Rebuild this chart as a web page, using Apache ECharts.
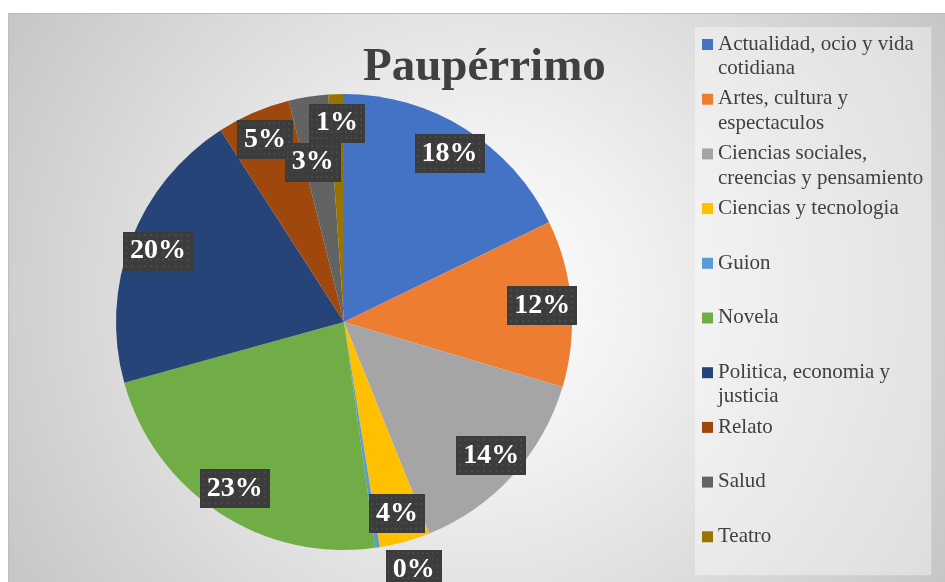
<!DOCTYPE html>
<html>
<head>
<meta charset="utf-8">
<script src="https://cdn.jsdelivr.net/npm/echarts@6/dist/echarts.min.js"></script>
<style>
  body { margin: 0; background: #fff; }
  #bg {
    position: absolute; left: 8px; top: 13px; width: 937px; height: 569px;
    border-left: 1px solid #bdbdbd; border-top: 1px solid #bdbdbd;
    background: radial-gradient(circle at 50% 50%, #ffffff 0%, #f1f1f1 30%, #c6c6c6 100%);
  }
  #chart { position: absolute; left: 0; top: 0; width: 945px; height: 582px; }
</style>
</head>
<body>
<div id="bg"></div>
<div id="chart"></div>
<script>
const categories = ['Actualidad, ocio y vida cotidiana', 'Artes, cultura y espectaculos',
  'Ciencias sociales, creencias y pensamiento', 'Ciencias y tecnologia', 'Guion', 'Novela',
  'Politica, economia y justicia', 'Relato', 'Salud', 'Teatro']
const legendLines = ['Actualidad, ocio y vida\ncotidiana', 'Artes, cultura y\nespectaculos',
  'Ciencias sociales,\ncreencias y pensamiento', 'Ciencias y tecnologia', 'Guion', 'Novela',
  'Politica, economia y\njusticia', 'Relato', 'Salud', 'Teatro']
const shares = [17.8, 11.8, 14.3, 3.6, 0.3, 22.9, 20.2, 5.2, 2.8, 1.1]
const colors = ['#4472C4', '#ED7D31', '#A5A5A5', '#FFC000', '#5B9BD5', '#70AD47',
  '#264478', '#9E480E', '#636363', '#997300']

// dotted dark background for the data labels
const pat = document.createElement('canvas')
pat.width = 80; pat.height = 44
const g = pat.getContext('2d')
g.fillStyle = '#3c3c3c'
g.fillRect(0, 0, 80, 44)
g.fillStyle = '#4f4f4f'
for (let x = 3; x < 80; x += 7) {
  for (let y = 3; y < 44; y += 7) {
    g.fillRect(x, y, 2, 2)
  }
}

const labelBox = {
  color: '#fff',
  fontFamily: 'Liberation Serif',
  fontWeight: 'bold',
  fontSize: 28,
  lineHeight: 32,
  padding: [4, 7, 3, 7],
  backgroundColor: {image: pat},
  shadowColor: 'rgba(0,0,0,0.45)',
  shadowBlur: 5,
  shadowOffsetX: 3,
  shadowOffsetY: 3,
  formatter: p => Math.round(p.value) + '%'
}

const guion = categories.indexOf('Guion')
const pieData = categories.map((name, i) => ({
  name: name,
  value: shares[i],
  itemStyle: {color: colors[i]},
  label: {show: i === guion}
}))
const labelData = categories.map((name, i) => ({
  name: name,
  value: shares[i],
  label: {show: i !== guion}
}))

const chart = echarts.init(document.getElementById('chart'))
chart.setOption({
  animation: false,
  title: {
    text: 'Paupérrimo',
    left: 358,
    top: 39,
    textStyle: {fontFamily: 'Liberation Serif', fontWeight: 'bold', fontSize: 47, color: '#404040'}
  },
  legend: {
    orient: 'vertical',
    left: 695,
    top: 27,
    padding: [5, 8, 2, 7],
    backgroundColor: 'rgba(255,255,255,0.4)',
    data: categories,
    itemWidth: 11,
    itemHeight: 49,
    itemGap: 5.7,
    icon: 'path://M0,0M0,7h11v11h-11zM11,49',
    selectedMode: false,
    formatter: name => {
      const s = legendLines[categories.indexOf(name)]
      return s.indexOf('\n') < 0 ? s + '\n ' : s
    },
    textStyle: {fontFamily: 'Liberation Serif', fontSize: 21, lineHeight: 24.5, color: '#404040'}
  },
  series: [
    {
      type: 'pie',
      center: [344, 322],
      radius: 228,
      startAngle: 90,
      avoidLabelOverlap: false,
      data: pieData,
      label: Object.assign({show: false, position: 'outside'}, labelBox),
      labelLine: {show: false, length: 22, length2: 0},
      emphasis: {disabled: true}
    },
    {
      // transparent twin that only carries the labels further out
      type: 'pie',
      center: [344, 322],
      radius: 392,
      startAngle: 90,
      silent: true,
      data: labelData,
      itemStyle: {color: 'rgba(0,0,0,0)'},
      label: Object.assign({position: 'inside'}, labelBox),
      labelLine: {show: false},
      labelLayout: p => (p.dataIndex === 8 || p.dataIndex === 9) ? {moveOverlap: 'shiftY'} : {},
      emphasis: {disabled: true}
    }
  ]
})
</script>
</body>
</html>
